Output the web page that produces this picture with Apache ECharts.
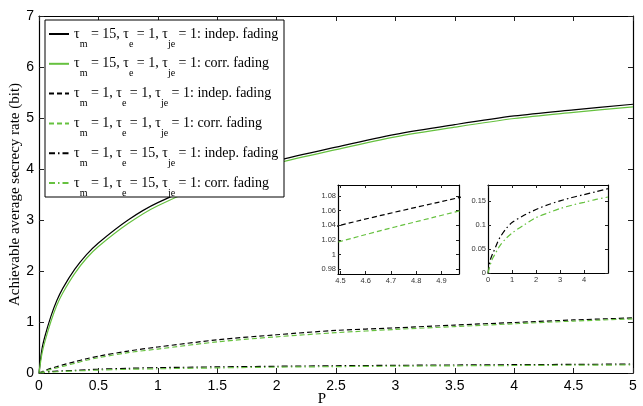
<!DOCTYPE html>
<html><head><meta charset="utf-8">
<script src="https://cdn.jsdelivr.net/npm/echarts@6/dist/echarts.min.js"></script>
<style>html,body{margin:0;padding:0;background:#fff}#c{width:643px;height:406px}</style>
</head><body><div id="c"></div>
<script>
// ---- data ----
const P = [0, 0.025, 0.05, 0.1, 0.15, 0.2, 0.3, 0.4, 0.5, 0.75, 1, 1.5, 2, 2.5, 3, 3.5, 4, 4.5, 5];
const rateM15Indep = [0, 0.47, 0.72, 1.11, 1.42, 1.66, 2.03, 2.32, 2.55, 3.00, 3.34, 3.82, 4.16, 4.43, 4.68, 4.87, 5.04, 5.16, 5.27];
const rateM15Corr  = [0, 0.38, 0.62, 1.01, 1.33, 1.57, 1.95, 2.25, 2.48, 2.93, 3.28, 3.77, 4.11, 4.38, 4.63, 4.82, 4.99, 5.11, 5.22];
const rateM1Indep  = [0, 0.025, 0.05, 0.09, 0.125, 0.16, 0.22, 0.28, 0.33, 0.43, 0.51, 0.65, 0.75, 0.835, 0.885, 0.94, 0.99, 1.04, 1.08];
const rateM1Corr   = [0, 0.018, 0.036, 0.07, 0.10, 0.13, 0.19, 0.25, 0.30, 0.40, 0.47, 0.61, 0.71, 0.79, 0.855, 0.91, 0.965, 1.018, 1.062];
const rateE15Indep = [0, 0.008, 0.016, 0.028, 0.035, 0.041, 0.052, 0.064, 0.074, 0.092, 0.105, 0.12, 0.132, 0.142, 0.15, 0.157, 0.163, 0.169, 0.1755];
const rateE15Corr  = [0, 0.005, 0.010, 0.018, 0.025, 0.031, 0.040, 0.049, 0.057, 0.072, 0.083, 0.10, 0.115, 0.125, 0.134, 0.141, 0.147, 0.153, 0.158];

const tauM = [15, 15, 1, 1, 1, 1];
const tauE = [1, 1, 1, 1, 15, 15];
const tauJe = [1, 1, 1, 1, 1, 1];
const fadingType = ['indep.', 'corr.', 'indep.', 'corr.', 'indep.', 'corr.'];

const xTicks = [0, 0.5, 1, 1.5, 2, 2.5, 3, 3.5, 4, 4.5, 5];
const yTicks = [0, 1, 2, 3, 4, 5, 6, 7];
const inset1XTicks = [4.5, 4.6, 4.7, 4.8, 4.9];
const inset1YTicks = [0.98, 1, 1.02, 1.04, 1.06, 1.08];
const inset2XTicks = [0, 1, 2, 3, 4];
const inset2YTicks = [0, 0.05, 0.1, 0.15];

// ---- chart ----
const BLACK = '#000000', GREEN = '#66c13f';
const names = tauM.map((m, i) => `τm = ${m}, τe = ${tauE[i]}, τje = ${tauJe[i]}: ${fadingType[i]} fading`);
const allRates = [rateM15Indep, rateM15Corr, rateM1Indep, rateM1Corr, rateE15Indep, rateE15Corr];
const colors = [BLACK, GREEN, BLACK, GREEN, BLACK, GREEN];
const dashes = ['solid', 'solid', [5, 3], [5, 3], [6, 3, 1.5, 3], [6, 3, 1.5, 3]];
const pairs = arr => P.map((p, i) => [p, arr[i]]);

function mkSeries(i, xi, yi) {
  return {
    name: names[i], type: 'line', xAxisIndex: xi, yAxisIndex: yi,
    data: pairs(allRates[i]), symbol: 'none', smooth: 0.3, clip: true,
    lineStyle: { color: colors[i], width: 1.2, type: dashes[i] },
    itemStyle: { color: colors[i] }, animation: false
  };
}
const series = [];
for (let i = 0; i < 6; i++) series.push(mkSeries(i, 0, 0));
series.push(mkSeries(2, 2, 2), mkSeries(3, 2, 2));
series.push(mkSeries(4, 4, 4), mkSeries(5, 4, 4));

const axLine = { onZero: false, lineStyle: { color: '#000', width: 1.2 } };
const tick = (len, vals) => Object.assign({ inside: true, length: len, lineStyle: { color: '#222', width: 1 } }, vals ? { customValues: vals } : {});
const mainLabel = { color: '#000', fontFamily: 'Liberation Sans', fontSize: 14 };
const insetLabel = { color: '#333', fontFamily: 'Liberation Sans', fontSize: 7.5 };
const fmt2 = v => String(+v.toFixed(2));

const xAxis = [
  { gridIndex: 0, type: 'value', min: 0, max: 5, interval: 0.5, position: 'bottom',
    axisLine: axLine, axisTick: tick(5), splitLine: { show: false },
    axisLabel: Object.assign({ margin: 6 }, mainLabel),
    name: 'P', nameLocation: 'middle', nameGap: 19, nameMoveOverlap: false,
    nameTextStyle: { fontFamily: 'Liberation Serif', fontSize: 15, color: '#000', padding: [0, 28, 0, 0] } },
  { gridIndex: 0, type: 'value', min: 0, max: 5, interval: 0.5, position: 'top',
    axisLine: axLine, axisTick: tick(5), splitLine: { show: false }, axisLabel: { show: false } },
  { gridIndex: 1, type: 'value', min: 4.49, max: 4.97, position: 'bottom',
    axisLine: axLine, axisTick: tick(3, inset1XTicks), splitLine: { show: false },
    axisLabel: Object.assign({ customValues: inset1XTicks, margin: 3, formatter: fmt2 }, insetLabel) },
  { gridIndex: 1, type: 'value', min: 4.49, max: 4.97, position: 'top',
    axisLine: axLine, axisTick: tick(3, inset1XTicks), splitLine: { show: false }, axisLabel: { show: false } },
  { gridIndex: 2, type: 'value', min: 0, max: 5, position: 'bottom',
    axisLine: axLine, axisTick: tick(3, inset2XTicks), splitLine: { show: false },
    axisLabel: Object.assign({ customValues: inset2XTicks, margin: 3, formatter: fmt2 }, insetLabel) },
  { gridIndex: 2, type: 'value', min: 0, max: 5, position: 'top',
    axisLine: axLine, axisTick: tick(3, inset2XTicks), splitLine: { show: false }, axisLabel: { show: false } }
];
const yAxis = [
  { gridIndex: 0, type: 'value', min: 0, max: 7, interval: 1, position: 'left',
    axisLine: axLine, axisTick: tick(5), splitLine: { show: false },
    axisLabel: Object.assign({ margin: 5 }, mainLabel),
    name: 'Achievable average secrecy rate (bit)', nameLocation: 'middle', nameGap: 16, nameMoveOverlap: false,
    nameTextStyle: { fontFamily: 'Liberation Serif', fontSize: 15, color: '#000' } },
  { gridIndex: 0, type: 'value', min: 0, max: 7, interval: 1, position: 'right',
    axisLine: axLine, axisTick: tick(5), splitLine: { show: false }, axisLabel: { show: false } },
  { gridIndex: 1, type: 'value', min: 0.9735, max: 1.095, position: 'left',
    axisLine: axLine, axisTick: tick(3, inset1YTicks), splitLine: { show: false },
    axisLabel: Object.assign({ customValues: inset1YTicks, margin: 2, formatter: fmt2 }, insetLabel) },
  { gridIndex: 1, type: 'value', min: 0.9735, max: 1.095, position: 'right',
    axisLine: axLine, axisTick: tick(3, inset1YTicks), splitLine: { show: false }, axisLabel: { show: false } },
  { gridIndex: 2, type: 'value', min: 0, max: 0.183, position: 'left',
    axisLine: axLine, axisTick: tick(3, inset2YTicks), splitLine: { show: false },
    axisLabel: Object.assign({ customValues: inset2YTicks, margin: 2, formatter: fmt2 }, insetLabel) },
  { gridIndex: 2, type: 'value', min: 0, max: 0.183, position: 'right',
    axisLine: axLine, axisTick: tick(3, inset2YTicks), splitLine: { show: false }, axisLabel: { show: false } }
];

const chart = echarts.init(document.getElementById('c'), null, { renderer: 'canvas' });
chart.setOption({
  animation: false,
  backgroundColor: '#fff',
  grid: [
    { left: 39, top: 16, width: 594, height: 357, outerBoundsMode: 'none', containLabel: false },
    { left: 338, top: 185, width: 121, height: 89, show: true, backgroundColor: '#fff', borderWidth: 0, outerBoundsMode: 'none', containLabel: false },
    { left: 488, top: 185, width: 120, height: 88, show: true, backgroundColor: '#fff', borderWidth: 0, outerBoundsMode: 'none', containLabel: false }
  ],
  xAxis, yAxis, series,
  graphic: [{
    type: 'rect', zlevel: 1, z: 0, shape: { x: 45, y: 20, width: 239, height: 177 },
    style: { fill: '#fff', stroke: '#000', lineWidth: 1 }
  }],
  legend: {
    data: names, orient: 'vertical', left: 48, top: 27, padding: 0, itemGap: 7.8,
    itemWidth: 20, itemHeight: 12, selectedMode: false, zlevel: 1, z: 5,
    itemStyle: { opacity: 0 },
    formatter: name => {
      const i = names.indexOf(name);
      return `{t|τ}{s|m}{t| = ${tauM[i]}, τ}{s|e}{t| = ${tauE[i]}, τ}{s|je}{t| = ${tauJe[i]}: ${fadingType[i]} fading}`;
    },
    textStyle: {
      rich: {
        t: { fontFamily: 'Liberation Serif', fontSize: 14, lineHeight: 30, color: '#000' },
        s: { fontFamily: 'Liberation Serif', fontSize: 10, lineHeight: 10, verticalAlign: 'bottom', color: '#000' }
      }
    }
  }
});
</script></body></html>
